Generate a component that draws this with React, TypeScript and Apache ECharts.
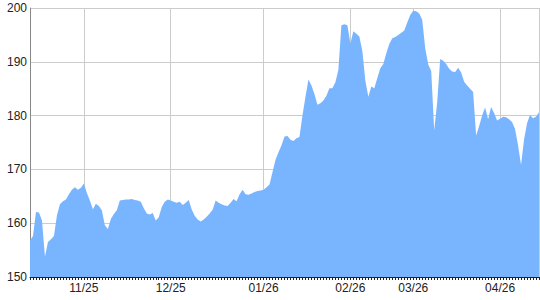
import React, { useEffect, useRef } from "react";
import * as echarts from "echarts";

const values: number[] = [
  156.8, 157.6, 162.1, 162.0, 160.5, 153.8, 156.5, 157.0, 157.6, 161.5,
  163.5, 164.1, 164.4, 165.4, 166.2, 166.7, 166.2, 166.6, 167.4, 165.6,
  164.2, 162.6, 163.6, 163.2, 162.4, 159.6, 158.9, 160.8, 161.7, 162.4,
  164.2, 164.3, 164.4, 164.4, 164.5, 164.3, 164.2, 164.0, 162.8, 161.8,
  161.6, 161.9, 160.5, 161.1, 163.0, 164.0, 164.4, 164.2, 164.0, 163.8,
  164.0, 163.4, 163.8, 164.3, 162.6, 161.4, 160.7, 160.3, 160.7, 161.2,
  161.8, 162.5, 164.2, 163.8, 163.5, 163.3, 163.2, 163.8, 164.5, 164.1,
  165.4, 166.2, 165.4, 165.3, 165.5, 165.8, 166.0, 166.1, 166.2, 166.7,
  167.2, 169.5, 171.8, 173.2, 174.5, 176.1, 176.2, 175.5, 175.3, 175.8,
  176.0, 180.0, 183.5, 186.7, 185.6, 184.0, 182.0, 182.3, 182.8, 183.7,
  185.1, 185.1, 186.2, 188.5, 196.8, 197.0, 196.8, 193.4, 195.7, 195.2,
  194.7, 192.0, 186.5, 183.5, 185.4, 185.1, 187.0, 188.8, 189.6, 191.6,
  193.3, 194.4, 194.6, 195.0, 195.4, 195.8, 197.3, 198.7, 199.5, 199.4,
  199.0, 197.8, 192.5, 189.5, 188.3, 177.3, 182.5, 190.5, 190.2, 189.6,
  188.7, 188.2, 188.1, 188.9, 188.0, 186.3, 185.6, 185.0, 184.4, 176.3,
  178.0, 180.0, 181.5, 179.3, 181.6, 180.5, 179.1, 179.4, 179.8, 179.7,
  179.3, 178.8, 177.5, 174.5, 170.8, 175.5, 178.6, 180.1, 179.5, 179.8,
  180.6,
];

const monthLabels: string[] = ["11/25", "12/25", "01/26", "02/26", "03/26", "04/26"];
const monthIndex: number[] = [18, 47, 78, 107, 128, 157];

const yMin = 150;
const yMax = 200;
const yStep = 10;

export default function App() {
  const ref = useRef<HTMLDivElement>(null);
  useEffect(() => {
    if (!ref.current) return;
    const chart = echarts.init(ref.current, null, { renderer: "svg" });
    const categories = values.map((_, i) => {
      const k = monthIndex.indexOf(i);
      return k >= 0 ? monthLabels[k] : String(i);
    });
    const lastIdx = values.length - 1;
    chart.setOption({
      animation: false,
      grid: { left: 30, right: 1, top: 8, bottom: 23, containLabel: false },
      xAxis: {
        type: "category",
        data: categories,
        boundaryGap: false,
        axisLine: { show: true, lineStyle: { color: "#222", width: 1 } },
        axisTick: { show: true, interval: 0, length: 3, lineStyle: { color: "#222" } },
        axisLabel: {
          interval: (idx: number) => monthIndex.includes(idx),
          color: "#222",
          fontFamily: "Liberation Sans, Arial, sans-serif",
          fontSize: 12,
          margin: 5,
        },
        splitLine: {
          show: true,
          interval: (idx: number) => monthIndex.includes(idx) || idx === lastIdx,
          lineStyle: { color: "#cccccc", width: 1 },
        },
      },
      yAxis: {
        type: "value",
        min: yMin,
        max: yMax,
        interval: yStep,
        axisLine: { show: true, lineStyle: { color: "#888", width: 1 } },
        axisTick: { show: false },
        axisLabel: {
          color: "#222",
          fontFamily: "Liberation Sans, Arial, sans-serif",
          fontSize: 12,
          margin: 3,
        },
        splitLine: { show: true, lineStyle: { color: "#cccccc", width: 1 } },
      },
      series: [
        {
          type: "line",
          data: values,
          symbol: "none",
          lineStyle: { width: 0, color: "#79b5ff" },
          areaStyle: { color: "#79b5ff", opacity: 1, origin: "start" },
          itemStyle: { color: "#79b5ff" },
        },
      ],
    });
    return () => chart.dispose();
  }, []);
  return <div ref={ref} style={{ width: 540, height: 300, position: "absolute", left: 0, top: 0 }} />;
}
